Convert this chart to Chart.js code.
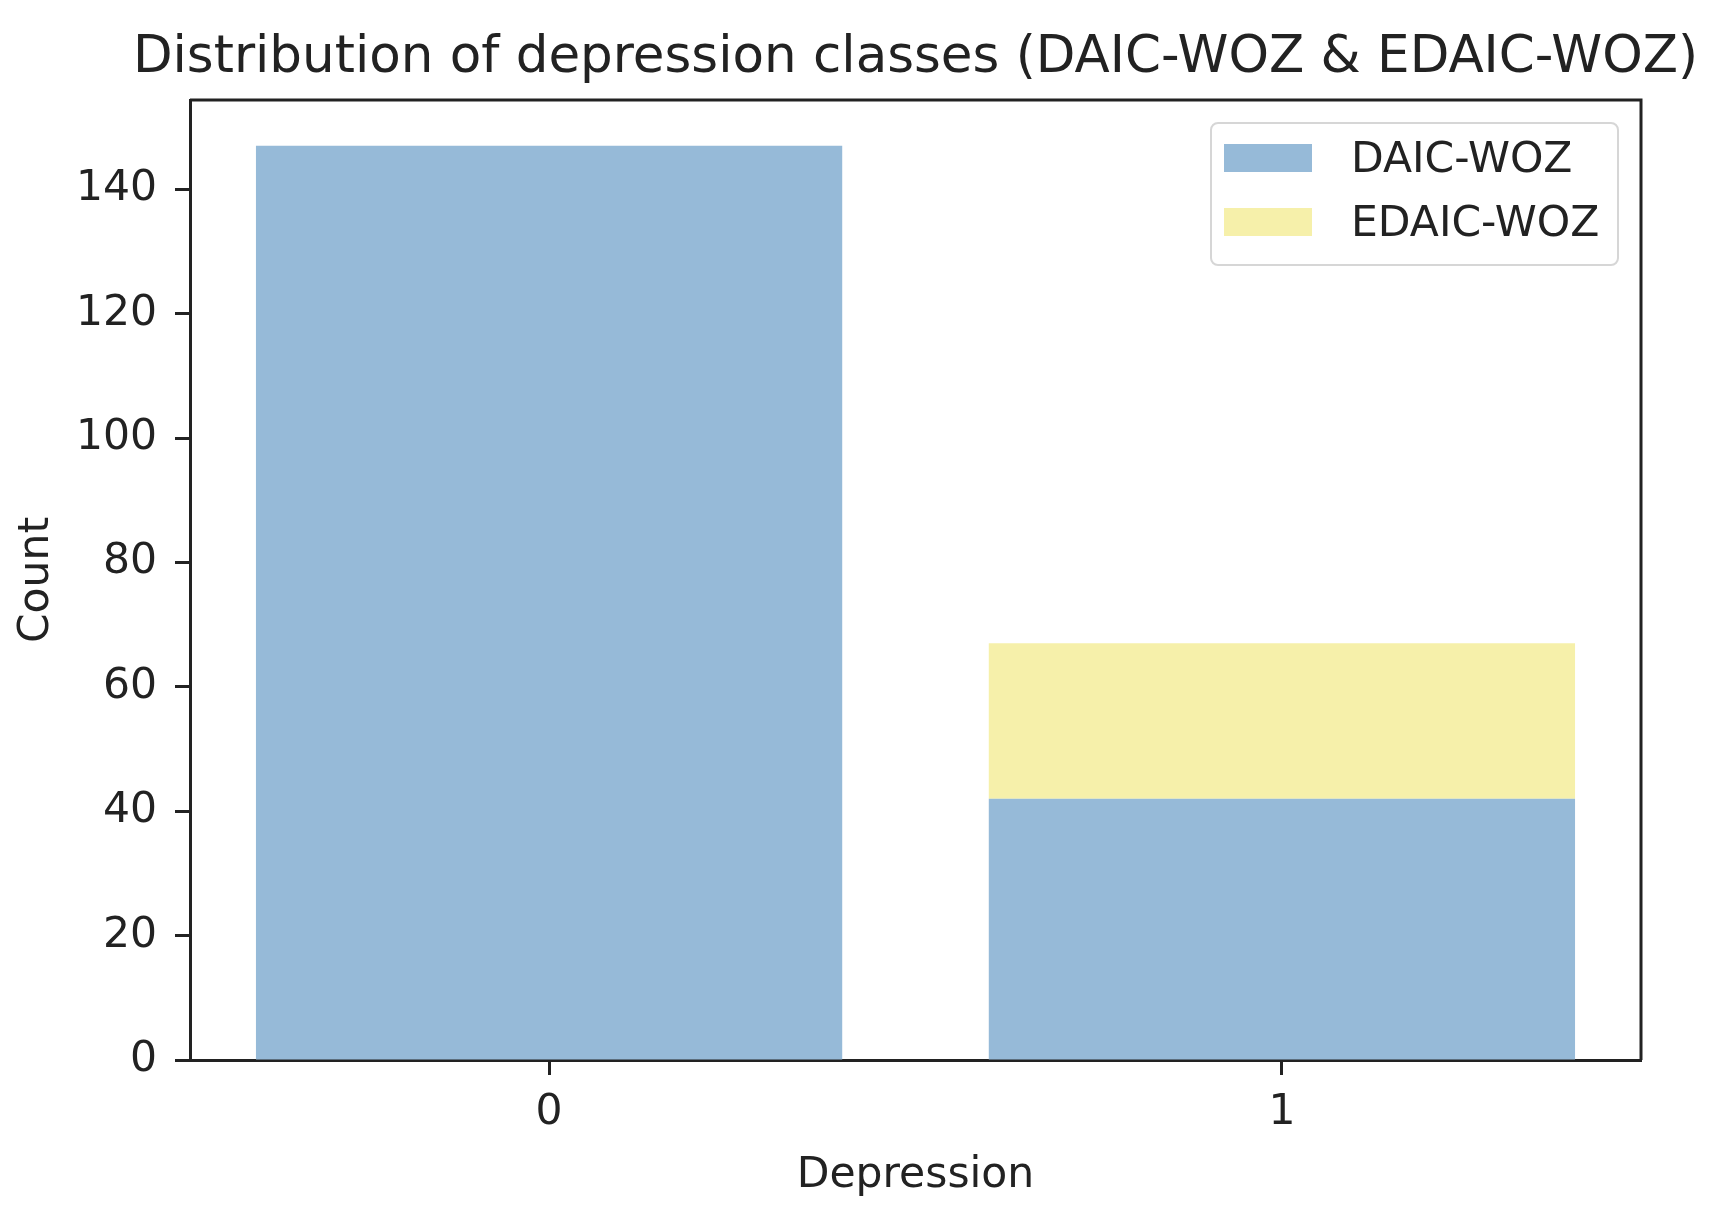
<!DOCTYPE html>
<html>
<head>
<meta charset="utf-8">
<title>Distribution of depression classes</title>
<script src="https://cdn.jsdelivr.net/npm/chart.js@4.4.1/dist/chart.umd.min.js"></script>
<style>
    html, body { margin: 0; padding: 0; background: #fff; }
    #wrap { width: 1710px; height: 1217px; }
</style>
</head>
<body>
<div id="wrap"><canvas id="classChart" width="1710" height="1217"></canvas></div>
<script>
const classes = [0, 1];
const daicCounts = [147, 42];
const edaicCounts = [0, 25];
const seriesNames = ['DAIC-WOZ', 'EDAIC-WOZ'];
const seriesColors = ['rgb(150, 186, 216)', 'rgb(246, 240, 170)'];
const yTickStep = 20;
const chartTitle = 'Distribution of depression classes (DAIC-WOZ & EDAIC-WOZ)';

const FONT = "'DejaVu Sans', 'Liberation Sans', sans-serif";
const INK = '#222';
const LABEL_SIZE = 42.5;

// title over the plot centre, frame on top/right, legend box inside the plot (matplotlib style)
const framePlugin = {
    id: 'frame',
    afterDraw(chart) {
        const { ctx, chartArea: a } = chart;
        ctx.save();
        ctx.fillStyle = INK;
        ctx.font = `51.5px ${FONT}`;
        ctx.textAlign = 'center';
        ctx.textBaseline = 'middle';
        ctx.fillText(chartTitle, (a.left + a.right) / 2, 59);

        ctx.strokeStyle = INK;
        ctx.lineWidth = 3;
        ctx.beginPath();
        ctx.moveTo(a.left, a.top);
        ctx.lineTo(a.right, a.top);
        ctx.lineTo(a.right, a.bottom);
        ctx.stroke();

        const w = 407, h = 142;
        const x = a.right - 23 - w, y = a.top + 23;
        ctx.fillStyle = 'rgba(255,255,255,0.8)';
        ctx.strokeStyle = '#d6d6d6';
        ctx.lineWidth = 2;
        ctx.beginPath();
        ctx.roundRect(x, y, w, h, 7);
        ctx.fill();
        ctx.stroke();

        ctx.font = `${LABEL_SIZE}px ${FONT}`;
        ctx.textAlign = 'left';
        chart.data.datasets.forEach((ds, i) => {
            const cy = y + 35 + i * 64;
            ctx.fillStyle = ds.backgroundColor;
            ctx.fillRect(x + 13, cy - 14, 88, 28);
            ctx.fillStyle = INK;
            ctx.fillText(ds.label, x + 140, cy + 3);
        });
        ctx.restore();
    }
};

const onlySteps = (step) => (scale) => {
    scale.ticks = scale.ticks.filter(t => Math.abs(t.value / step - Math.round(t.value / step)) < 1e-9);
};

new Chart(document.getElementById('classChart'), {
    type: 'bar',
    data: {
        datasets: [
            { label: seriesNames[0], data: classes.map((c, i) => ({ x: c, y: daicCounts[i] })),
              backgroundColor: seriesColors[0], stack: 'dep', borderWidth: 0 },
            { label: seriesNames[1], data: classes.map((c, i) => ({ x: c, y: edaicCounts[i] })),
              backgroundColor: seriesColors[1], stack: 'dep', borderWidth: 0 }
        ]
    },
    options: {
        responsive: false,
        animation: false,
        devicePixelRatio: 1,
        layout: { padding: { left: 0, right: 69, top: 100, bottom: 0 } },
        datasets: { bar: { categoryPercentage: 0.8, barPercentage: 1.0 } },
        plugins: {
            legend: { display: false },
            tooltip: { enabled: false },
            title: { display: false }
        },
        scales: {
            x: {
                type: 'linear',
                offset: false,
                min: -0.49,
                max: 1.49,
                afterBuildTicks: onlySteps(1),
                afterFit: (s) => { s.height = 157; },
                ticks: { stepSize: 1, color: INK, padding: 12, font: { family: FONT, size: LABEL_SIZE },
                         callback: (v) => String(v) },
                grid: { offset: false, drawOnChartArea: false, drawTicks: true, tickLength: 15, tickWidth: 3, tickColor: INK },
                border: { display: true, color: INK, width: 3 },
                title: { display: true, text: 'Depression', color: INK,
                         font: { family: FONT, size: LABEL_SIZE }, padding: { top: 0, bottom: 16 } }
            },
            y: {
                stacked: true,
                min: 0,
                max: 154.35,
                afterBuildTicks: onlySteps(yTickStep),
                afterFit: (s) => { s.width = 190; },
                ticks: { stepSize: yTickStep, color: INK, padding: 18, font: { family: FONT, size: LABEL_SIZE } },
                grid: { drawOnChartArea: false, drawTicks: true, tickLength: 15, tickWidth: 3, tickColor: INK },
                border: { display: true, color: INK, width: 3 },
                title: { display: true, text: 'Count', color: INK,
                         font: { family: FONT, size: LABEL_SIZE }, padding: { top: 11, bottom: 0 } }
            }
        }
    },
    plugins: [framePlugin]
});
</script>
</body>
</html>
